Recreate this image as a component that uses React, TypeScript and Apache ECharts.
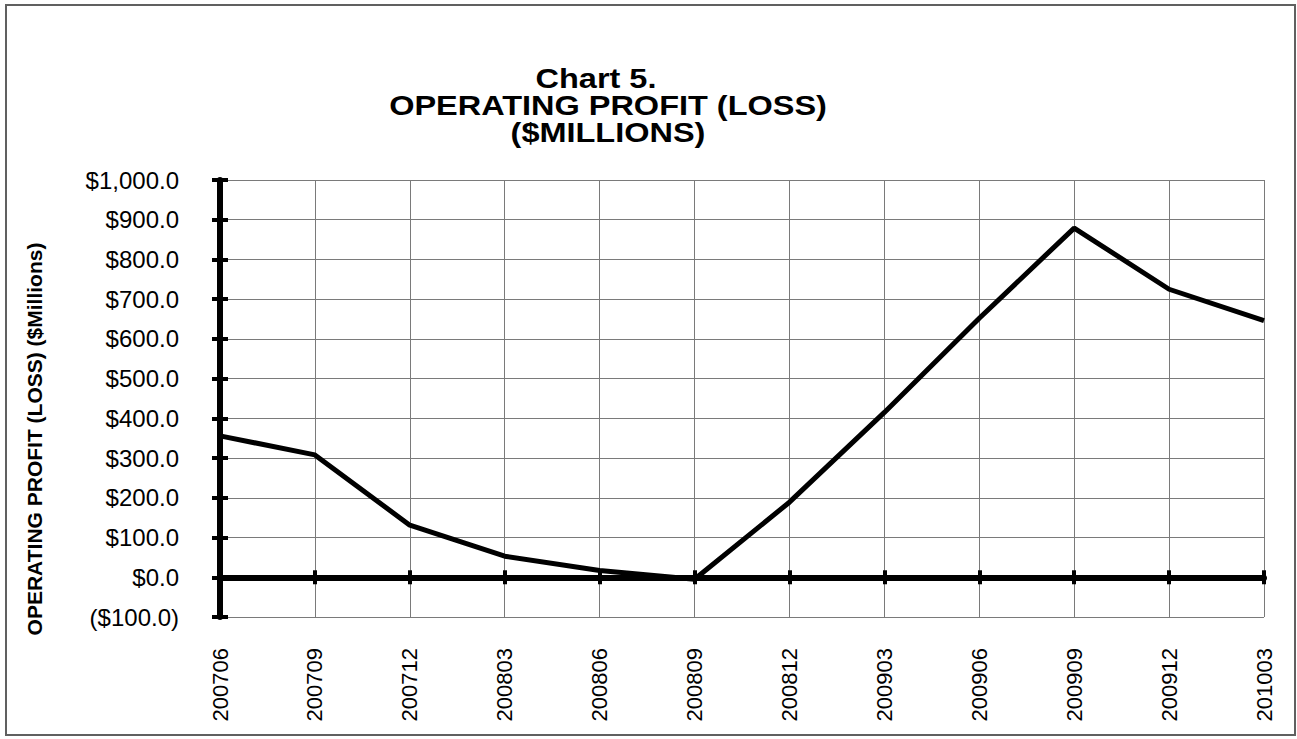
import React, { useEffect, useRef } from "react";
import * as echarts from "echarts";

const categories = ["200706", "200709", "200712", "200803", "200806", "200809", "200812", "200903", "200906", "200909", "200912", "201003"];
const profitValues = [356, 308, 131, 53, 17, -5, 189, 415, 652, 879, 725, 646];
const titleLines = ["Chart 5.", "OPERATING PROFIT (LOSS)", "($MILLIONS)"];
const yAxisTitle = "OPERATING PROFIT (LOSS) ($Millions)";
const yMin = -100;
const yMax = 1000;
const yStep = 100;

const FONT = "'Liberation Sans', Arial, sans-serif";

function fmt(v: number): string {
  const s = "$" + Math.abs(v).toLocaleString("en-US", { minimumFractionDigits: 1, maximumFractionDigits: 1 });
  return v < 0 ? "(" + s + ")" : s;
}

export default function App() {
  const ref = useRef<HTMLDivElement>(null);
  useEffect(() => {
    if (!ref.current) return;
    const chart = echarts.init(ref.current, null, { renderer: "svg" });
    const baseY = {
      type: "value" as const,
      min: yMin,
      max: yMax,
      interval: yStep,
      position: "left" as const,
    };
    const baseX = {
      type: "category" as const,
      data: categories,
      boundaryGap: false,
      position: "bottom" as const,
    };
    const titleCenters = [
      { x: 596, y: 78 },
      { x: 608, y: 105 },
      { x: 608, y: 132 },
    ];
    const titleGraphics = titleLines.map((t, i) => ({
      type: "text",
      x: titleCenters[i].x,
      y: titleCenters[i].y,
      scaleX: 1.16,
      style: {
        text: t,
        font: "bold 28px " + FONT,
        fill: "#000",
        textAlign: "center",
        textVerticalAlign: "middle",
      },
    }));
    chart.setOption({
      animation: false,
      backgroundColor: "#ffffff",
      grid: { left: 220, right: 33, top: 180, bottom: 122, containLabel: false },
      xAxis: [
        {
          ...baseX,
          axisLine: { show: false, onZero: false },
          axisTick: { show: false },
          axisLabel: { rotate: 90, margin: 31, fontSize: 22, fontFamily: FONT, color: "#000" },
          splitLine: { show: true, lineStyle: { color: "#7a7a7a", width: 1 } },
        },
        {
          ...baseX,
          axisLine: { show: true, onZero: true, lineStyle: { color: "#000", width: 6 } },
          axisTick: { show: true, inside: false, length: 7, lineStyle: { color: "#000", width: 4 } },
          axisLabel: { show: false },
          splitLine: { show: false },
        },
        {
          ...baseX,
          axisLine: { show: false, onZero: true },
          axisTick: { show: true, inside: true, length: 7, lineStyle: { color: "#000", width: 4 } },
          axisLabel: { show: false },
          splitLine: { show: false },
        },
      ],
      yAxis: [
        {
          ...baseY,
          axisLine: { show: true, lineStyle: { color: "#000", width: 6 } },
          axisTick: { show: true, inside: false, length: 8, lineStyle: { color: "#000", width: 4 } },
          axisLabel: { margin: 41, fontSize: 24, fontFamily: FONT, color: "#000", formatter: (v: number) => fmt(v) },
          splitLine: { show: true, lineStyle: { color: "#7a7a7a", width: 1 } },
        },
        {
          ...baseY,
          axisLine: { show: false },
          axisTick: { show: true, inside: true, length: 8, lineStyle: { color: "#000", width: 4 } },
          axisLabel: { show: false },
          splitLine: { show: false },
        },
      ],
      series: [
        {
          type: "line",
          data: profitValues,
          xAxisIndex: 0,
          yAxisIndex: 0,
          showSymbol: false,
          symbol: "none",
          lineStyle: { color: "#000", width: 5 },
          z: 5,
        },
      ],
      graphic: [
        {
          type: "rect",
          shape: { x: 6, y: 5, width: 1289, height: 730 },
          style: { fill: "none", stroke: "#606060", lineWidth: 2 },
          silent: true,
        },
        ...titleGraphics,
        {
          type: "text",
          x: 34,
          y: 439,
          rotation: Math.PI / 2,
          style: {
            text: yAxisTitle,
            font: "bold 21px " + FONT,
            fill: "#000",
            textAlign: "center",
            textVerticalAlign: "middle",
          },
        },
      ],
    });
    return () => chart.dispose();
  }, []);
  return <div ref={ref} style={{ position: "fixed", left: 0, top: 0, width: 1297, height: 739 }} />;
}
